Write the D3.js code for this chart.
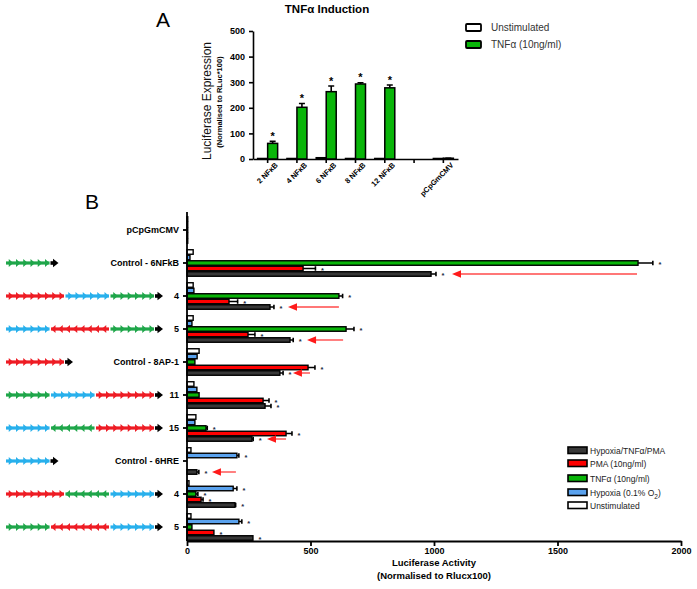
<!DOCTYPE html>
<html><head><meta charset="utf-8">
<script src="https://cdn.jsdelivr.net/npm/d3@7"></script>
<style>body{margin:0;background:#fff} text{font-family:"Liberation Sans",Arial,sans-serif}</style>
</head><body><svg id="c" width="697" height="589"></svg>
<script>
// ---------- Panel A data ----------
const aCats = ["2 NF\u03baB","4 NF\u03baB","6 NF\u03baB","8 NF\u03baB","12 NF\u03baB","","pCpGmCMV"];
const aUnstim = [2,2,5,2,2,null,2];
const aTnf = [61,202,263,293,278,null,3];
const aTnfErr = [8,15,22,5,11,null,0];
const aStar = [true,true,true,true,true,false,false];
const aTicks = [0,100,200,300,400,500];

// ---------- Panel B data ----------
const bCats = ["pCpGmCMV","Control - 6NFkB","4","5","Control - 8AP-1","11","15","Control - 6HRE","4","5"];
const unstim  = [3, 25, 25, 25, 49, 28, 36, 16, 8, 16];
const hypoxia = [3, 12, 28, 20, 41, 40, 32, 202, 187, 210];
const tnf     = [3, 1826, 615, 644, 32, 49, 77, 0, 36, 20];
const pma     = [3, 470, 170, 247, 490, 308, 401, 0, 57, 109];
const combo   = [3, 988, 336, 417, 376, 316, 263, 40, 194, 267];
const unstimErr  = [0,0,0,0,0,0,0,0,0,0];
const hypoxiaErr = [0,0,0,0,0,0,0,8,15,12];
const tnfErr     = [0,60,15,32,0,0,5,0,8,0];
const pmaErr     = [0,50,35,28,28,24,24,0,8,0];
const comboErr   = [0,20,16,13,13,24,5,8,3,0];
const hypoxiaStar = [0,0,0,0,0,0,0,1,1,1];
const tnfStar     = [0,1,1,1,0,0,1,0,1,0];
const pmaStar     = [0,1,1,1,1,1,1,0,1,1];
const comboStar   = [0,1,1,1,1,1,1,1,1,1];
const bTicks = [0,500,1000,1500,2000];
// red annotation arrows: [category index, from value, to value]
const arrowCats = [1,2,3,4,6,7];
const arrowFrom = [1822,615,632,498,401,198];
const arrowTo   = [1073,409,486,429,324,101];
// construct diagrams: [colour key, units, direction]
const constructs = [
  [],
  [["g",6,1]],
  [["r",8,1],["b",6,1],["g",6,1]],
  [["b",6,1],["r",8,-1],["g",6,1]],
  [["r",8,1]],
  [["g",6,1],["b",6,1],["r",8,1]],
  [["b",6,1],["g",6,-1],["r",8,1]],
  [["b",6,1]],
  [["r",8,1],["g",6,-1],["b",6,1]],
  [["g",6,1],["r",8,-1],["b",6,1]]
];
const legendLabels = ["Hypoxia/TNF\u03b1/PMA","PMA (10ng/ml)","TNF\u03b1 (10ng/ml)","Hypoxia (0.1% O\u2082)","Unstimulated"];

const svg = d3.select("#c");
const C = {white:"#ffffff", green:"#09b509", red:"#ff0000", blue:"#5aa2ee", dark:"#383838"};
const DC = {g:"#1fa64a", r:"#ee1c24", b:"#28b0ec"};

// ================= Panel A =================
svg.append("text").attr("x",163).attr("y",27).attr("font-size",21).attr("text-anchor","middle").text("A");
svg.append("text").attr("x",327).attr("y",13).attr("font-size",11.5).attr("font-weight","bold").attr("text-anchor","middle").text("TNF\u03b1 Induction");

const ax = d3.scaleBand().domain(d3.range(aCats.length)).range([253,458]);
const ay = d3.scaleLinear().domain([0,500]).range([159,31]);
const gA = svg.append("g");
const aAxY = gA.append("g").attr("transform","translate(253,0)")
  .call(d3.axisLeft(ay).tickValues(aTicks).tickSize(4).tickSizeOuter(0));
aAxY.selectAll("text").attr("font-size",9).attr("font-weight","bold").attr("fill","#000").attr("dx",-1);
aAxY.selectAll("path,line").attr("stroke","#000").attr("stroke-width",1.6);
const aAxX = gA.append("g").attr("transform","translate(0,159)")
  .call(d3.axisBottom(ax).tickSize(4).tickSizeOuter(0).tickFormat(i=>aCats[i]));
aAxX.selectAll("path,line").attr("stroke","#000").attr("stroke-width",1.6);
aAxX.selectAll("text").attr("font-size",7.5).attr("font-weight","bold").attr("fill","#000")
  .attr("text-anchor","end").attr("transform","translate(2,-2) rotate(-45)");

const aIdx = d3.range(aCats.length).filter(i=>aTnf[i]!==null);
const cx = i => ax(i)+ax.bandwidth()/2;
gA.selectAll(".au").data(aIdx).join("rect")
  .attr("x",i=>cx(i)-10).attr("width",10)
  .attr("y",i=>ay(aUnstim[i])).attr("height",i=>ay(0)-ay(aUnstim[i]))
  .attr("fill",C.white).attr("stroke","#000").attr("stroke-width",1.5);
gA.selectAll(".aerr").data(aIdx).join("path")
  .attr("d",i=>`M${cx(i)+5},${ay(aTnf[i])}V${ay(aTnf[i]+aTnfErr[i])}M${cx(i)+2},${ay(aTnf[i]+aTnfErr[i])}H${cx(i)+8}`)
  .attr("stroke","#000").attr("stroke-width",1.6).attr("fill","none");
gA.selectAll(".at").data(aIdx).join("rect")
  .attr("x",i=>cx(i)).attr("width",10)
  .attr("y",i=>ay(aTnf[i])).attr("height",i=>ay(0)-ay(aTnf[i]))
  .attr("fill",C.green).attr("stroke","#000").attr("stroke-width",1.5);
gA.selectAll(".as").data(aIdx.filter(i=>aStar[i])).join("text")
  .attr("x",i=>cx(i)+5).attr("y",i=>ay(aTnf[i]+aTnfErr[i])-1.5)
  .attr("text-anchor","middle").attr("font-size",11).attr("font-weight","bold").text("*");

svg.append("text").attr("transform","translate(211,101) rotate(-90)").attr("text-anchor","middle")
  .attr("font-size",12).attr("fill","#111").text("Luciferase Expression");
svg.append("text").attr("transform","translate(222,102) rotate(-90)").attr("text-anchor","middle")
  .attr("font-size",7.5).attr("font-weight","bold").text("(Normalised to RLuc*100)");

// legend A
[["Unstimulated",C.white],["TNF\u03b1 (10ng/ml)",C.green]].forEach((d,k)=>{
  const y = 24+k*17;
  svg.append("rect").attr("x",466).attr("y",y).attr("width",15).attr("height",7)
    .attr("fill",d[1]).attr("stroke","#000").attr("stroke-width",1.8).attr("rx",1);
  svg.append("text").attr("x",491).attr("y",y+7).attr("font-size",10).attr("fill","#333").text(d[0]);
});

// ================= Panel B =================
svg.append("text").attr("x",92).attr("y",209).attr("font-size",21).attr("text-anchor","middle").text("B");

const bx = d3.scaleLinear().domain([0,2000]).range([187,681]);
const by = d3.scaleBand().domain(d3.range(bCats.length)).range([213.5,543.5]);
const inner = d3.scaleBand().domain(d3.range(5)).range([-13.75,13.75]);
const mid = i => by(i)+by.bandwidth()/2;
const gB = svg.append("g");

const series = [
  {v:unstim, e:unstimErr, s:null, c:C.white},
  {v:hypoxia, e:hypoxiaErr, s:hypoxiaStar, c:C.blue},
  {v:tnf, e:tnfErr, s:tnfStar, c:C.green},
  {v:pma, e:pmaErr, s:pmaStar, c:C.red},
  {v:combo, e:comboErr, s:comboStar, c:C.dark}
];
series.forEach((S,k)=>{
  const idx = d3.range(bCats.length).filter(i=>S.v[i]>0);
  const yb = i => mid(i)+inner(k)+0.5;
  const h = inner.bandwidth()-1;
  gB.selectAll(".e"+k).data(idx.filter(i=>S.e[i]>0)).join("path")
    .attr("d",i=>`M${bx(S.v[i])},${yb(i)+h/2}H${bx(S.v[i]+S.e[i])}M${bx(S.v[i]+S.e[i])},${yb(i)}V${yb(i)+h}`)
    .attr("stroke","#000").attr("stroke-width",1.6).attr("fill","none");
  gB.selectAll(".b"+k).data(idx).join("rect")
    .attr("x",bx(0)).attr("y",yb).attr("height",h)
    .attr("width",i=>bx(S.v[i])-bx(0))
    .attr("fill",S.c).attr("stroke","#000").attr("stroke-width",1.4);
  if(S.s){
    gB.selectAll(".s"+k).data(idx.filter(i=>S.s[i])).join("text")
      .attr("x",i=>bx(S.v[i]+S.e[i])+7).attr("y",i=>yb(i)+h/2+4)
      .attr("text-anchor","middle").attr("font-size",7.5).attr("font-weight","bold").attr("fill","#1a2a44").text("*");
  }
});

// axes B
const bAxX = gB.append("g").attr("transform","translate(0,541)")
  .call(d3.axisBottom(bx).tickValues(bTicks).tickSize(5).tickSizeOuter(0).tickFormat(d3.format("d")));
bAxX.selectAll("path,line").attr("stroke","#000").attr("stroke-width",1.8);
bAxX.selectAll("text").attr("font-size",9).attr("font-weight","bold").attr("fill","#000").attr("dy","0.6em");
const bAxY = gB.append("g").attr("transform","translate(187,0)")
  .call(d3.axisLeft(by).tickSize(4).tickSizeOuter(0).tickFormat(i=>bCats[i]));
bAxY.select("path").attr("d","M0,212V541");
bAxY.selectAll("path,line").attr("stroke","#000").attr("stroke-width",1.8);
bAxY.selectAll("text").attr("font-size",9).attr("font-weight","bold").attr("fill","#000").attr("dx",-1);

svg.append("text").attr("x",434).attr("y",566).attr("text-anchor","middle").attr("font-size",9.5).attr("font-weight","bold").text("Luciferase Activity");
svg.append("text").attr("x",434).attr("y",579).attr("text-anchor","middle").attr("font-size",9.5).attr("font-weight","bold").text("(Normalised to Rlucx100)");

// red arrows
const arrowCol = "#ff4a4a";
arrowCats.forEach((ci,k)=>{
  const y = mid(ci)+inner(4)+inner.bandwidth()/2;
  const x0 = bx(arrowFrom[k]), x1 = bx(arrowTo[k]);
  svg.append("line").attr("x1",x0).attr("x2",x1+7).attr("y1",y).attr("y2",y)
    .attr("stroke",arrowCol).attr("stroke-width",1.4);
  svg.append("path").attr("d",`M${x1},${y}L${x1+9},${y-3.8}L${x1+9},${y+3.8}Z`).attr("fill","#ff1a1a");
});

// construct diagrams
const unitW = 7.25, gap = 1.5;
constructs.forEach((segs,ci)=>{
  if(!segs.length) return;
  const y = mid(ci);
  let x = 6;
  segs.forEach(([col,n,dir])=>{
    const w = n*unitW;
    svg.append("rect").attr("x",x).attr("y",y-1.6).attr("width",w).attr("height",3.2).attr("fill",DC[col]);
    for(let u=0;u<n;u++){
      const xs = x+u*unitW;
      let p;
      if(dir>0) p=`M${xs+unitW-4.5},${y-4}L${xs+unitW},${y}L${xs+unitW-4.5},${y+4}Z`;
      else p=`M${xs+4.5},${y-4}L${xs},${y}L${xs+4.5},${y+4}Z`;
      svg.append("path").attr("d",p).attr("fill",DC[col]);
    }
    x += w+gap;
  });
  svg.append("rect").attr("x",x-0.5).attr("y",y-1.8).attr("width",3.5).attr("height",3.6).attr("fill","#000");
  svg.append("path").attr("d",`M${x+2},${y-4.3}L${x+7.5},${y}L${x+2},${y+4.3}Z`).attr("fill","#000");
});

// legend B
const legCols = [C.dark,C.red,C.green,C.blue,C.white];
const legY = [447,460,475,489,502];
legendLabels.forEach((t,k)=>{
  svg.append("rect").attr("x",568).attr("y",legY[k]).attr("width",19).attr("height",6.5)
    .attr("fill",legCols[k]).attr("stroke","#000").attr("stroke-width",1.6);
  const tx = svg.append("text").attr("x",590).attr("y",legY[k]+7).attr("font-size",8.5).attr("fill","#222");
  if(k===3){
    tx.append("tspan").text("Hypoxia (0.1% O");
    tx.append("tspan").attr("font-size",6.5).attr("dy",2.5).text("2");
    tx.append("tspan").attr("dy",-2.5).text(")");
  } else tx.text(t);
});
</script></body></html>
